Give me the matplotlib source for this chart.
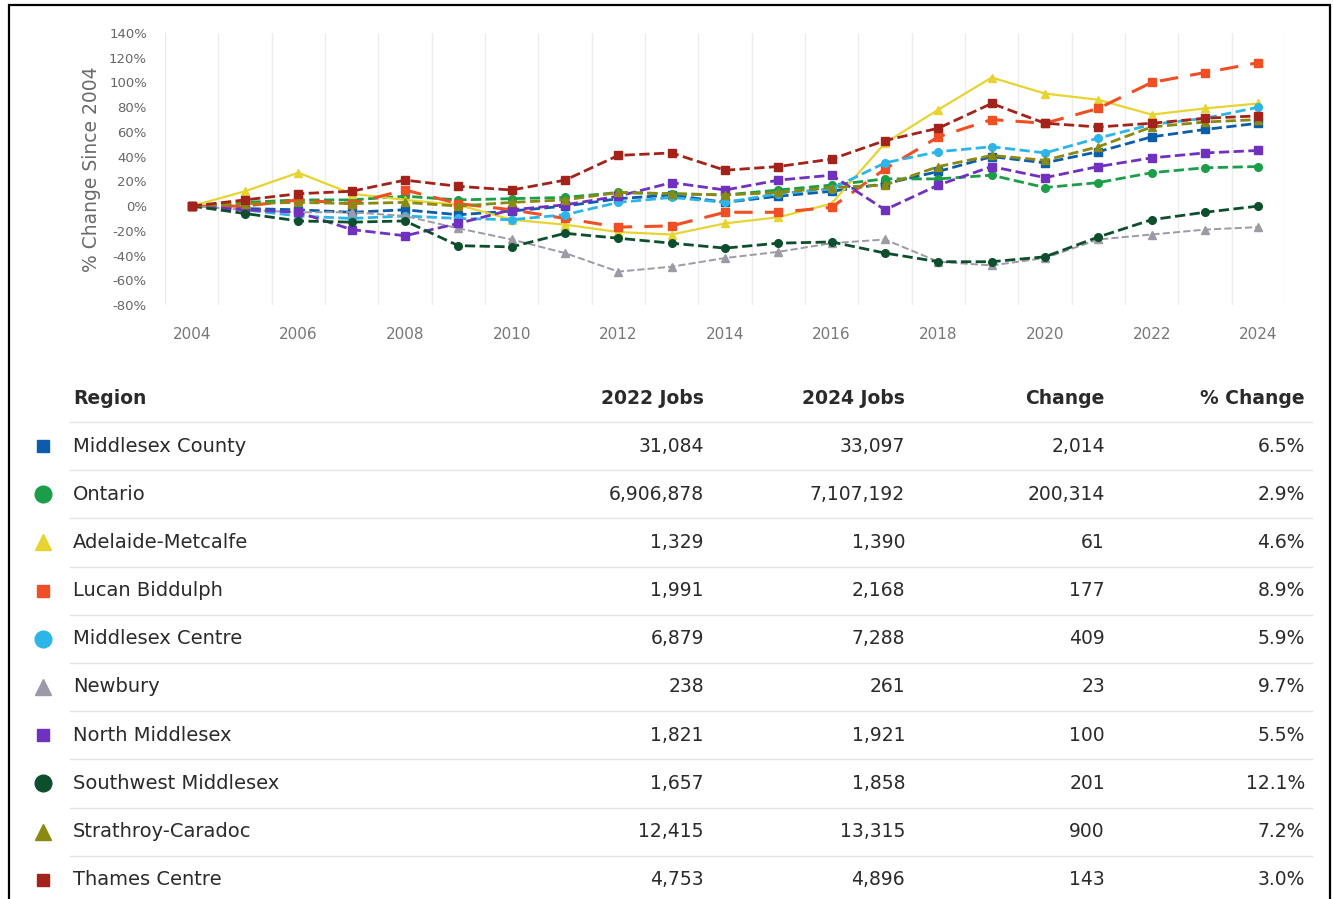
import numpy as np
import matplotlib.pyplot as plt
from matplotlib.patches import Rectangle

# Data
years = np.arange(2004, 2025)

regions = ['Middlesex County', 'Ontario', 'Adelaide-Metcalfe', 'Lucan Biddulph',
           'Middlesex Centre', 'Newbury', 'North Middlesex', 'Southwest Middlesex',
           'Strathroy-Caradoc', 'Thames Centre']

# % change since 2004, per region
middlesex_county = [0, -2, -3, -5, -3, -7, -4, 0, 6, 9, 3, 8, 12, 18, 28, 40, 35, 44, 56, 62, 67]
ontario = [0, 3, 5, 5, 8, 5, 6, 7, 11, 10, 9, 13, 17, 22, 22, 25, 15, 19, 27, 31, 32]
adelaide_metcalfe = [0, 12, 27, 10, 5, 1, -11, -15, -21, -23, -14, -9, 2, 51, 78, 104, 91, 86, 74, 79, 83]
lucan_biddulph = [0, 0, 5, 2, 13, 2, -3, -10, -17, -16, -5, -5, -1, 30, 56, 70, 67, 79, 100, 108, 116]
middlesex_centre = [0, -3, -8, -10, -8, -10, -11, -7, 3, 7, 3, 10, 14, 35, 44, 48, 43, 55, 66, 71, 80]
newbury = [0, -3, -5, -5, -8, -18, -27, -38, -53, -49, -42, -37, -30, -27, -45, -48, -42, -27, -23, -19, -17]
north_middlesex = [0, -3, -5, -19, -24, -14, -3, 1, 8, 19, 13, 21, 25, -3, 17, 32, 23, 32, 39, 43, 45]
southwest_middlesex = [0, -6, -12, -13, -12, -32, -33, -22, -26, -30, -34, -30, -29, -38, -45, -45, -41, -25, -11, -5, 0]
strathroy_caradoc = [0, 2, 3, 2, 3, 0, 3, 5, 11, 10, 9, 11, 15, 17, 32, 41, 37, 48, 64, 68, 70]
thames_centre = [0, 5, 10, 12, 21, 16, 13, 21, 41, 43, 29, 32, 38, 53, 63, 83, 67, 64, 67, 71, 73]

jobs_2022 = ['31,084', '6,906,878', '1,329', '1,991', '6,879', '238', '1,821', '1,657', '12,415', '4,753']
jobs_2024 = ['33,097', '7,107,192', '1,390', '2,168', '7,288', '261', '1,921', '1,858', '13,315', '4,896']
change = ['2,014', '200,314', '61', '177', '409', '23', '100', '201', '900', '143']
pct_change = ['6.5%', '2.9%', '4.6%', '8.9%', '5.9%', '9.7%', '5.5%', '12.1%', '7.2%', '3.0%']

series = [middlesex_county, ontario, adelaide_metcalfe, lucan_biddulph, middlesex_centre,
          newbury, north_middlesex, southwest_middlesex, strathroy_caradoc, thames_centre]
colors = ['#0b5cab', '#1a9e48', '#e8d430', '#f04e23', '#2cb5e8',
          '#9c9aa6', '#7030c0', '#0d4f2c', '#8a8a12', '#a3221a']
markers = ['s', 'o', '^', 's', 'o', '^', 's', 'o', '^', 's']
styles = ['--', '--', '-', (0, (6, 4)), '--', '--', '--', '--', '--', '--']
widths = [2, 2, 1.6, 2.2, 2, 1.4, 2, 2, 2, 2]

W, H = 1333, 899
fig = plt.figure(figsize=(W / 100, H / 100), dpi=100)

# chart
ax = fig.add_axes([165 / W, 1 - 305 / H, 1120 / W, 272 / H])
draw_order = [5, 7, 8, 1, 0, 4, 6, 2, 3, 9]
for i in draw_order:
    ax.plot(years, series[i], linestyle=styles[i], marker=markers[i], color=colors[i],
            lw=widths[i], ms=5.5, zorder=3 + i * 0.1)

ax.set_xlim(2003.5, 2024.5)
ax.set_ylim(-80, 140)
ax.set_yticks(np.arange(-80, 141, 20))
ax.set_yticklabels([f'{v}%' for v in range(-80, 141, 20)])
ax.set_xticks(np.arange(2004, 2025, 2))
ax.set_xticks(np.arange(2003.5, 2025, 1), minor=True)
ax.grid(True, which='minor', axis='x', color='#ececec', lw=1)
ax.tick_params(which='both', length=0)
ax.tick_params(axis='y', labelsize=9.5, labelcolor='#666666', pad=13)
ax.tick_params(axis='x', labelsize=11, labelcolor='#777777', pad=16)
for s in ax.spines.values():
    s.set_visible(False)
ax.set_ylabel('% Change Since 2004', fontsize=13.5, color='#6a6a6a', labelpad=6)

# table beneath the chart, laid out in pixel units
tab = fig.add_axes([0, 0, 1, 1])
tab.set_xlim(0, W)
tab.set_ylim(H, 0)
tab.axis('off')

head_y = 398
row_h = 48.2
first_y = 446
col_right = [704, 905, 1105, 1305]
headers = ['2022 Jobs', '2024 Jobs', 'Change', '% Change']
txt = '#2a2a2a'
fs = 13.5

tab.text(73, head_y, 'Region', fontsize=fs, fontweight='bold', color=txt, va='center', ha='left')
for xr, h in zip(col_right, headers):
    tab.text(xr, head_y, h, fontsize=fs, fontweight='bold', color=txt, va='center', ha='right')

msize = {'s': 9, 'o': 12, '^': 11}
for k, name in enumerate(regions):
    y = first_y + k * row_h
    tab.plot([43], [y], marker=markers[k], color=colors[k], ms=msize[markers[k]], ls='none')
    tab.text(73, y, name, fontsize=fs + 0.5, color=txt, va='center', ha='left')
    for xr, col in zip(col_right, [jobs_2022, jobs_2024, change, pct_change]):
        tab.text(xr, y, col[k], fontsize=fs, color=txt, va='center', ha='right')
    sep = y - row_h / 2
    tab.plot([70, 1312], [sep, sep], color='#e4e4e4', lw=1)

# outer frame of the picture
fig.add_artist(Rectangle((9 / W, -0.02), 1321 / W, 1.02 - 5 / H, transform=fig.transFigure,
                         fill=False, ec='black', lw=1.6))

fig.savefig('out.png', dpi=100)
